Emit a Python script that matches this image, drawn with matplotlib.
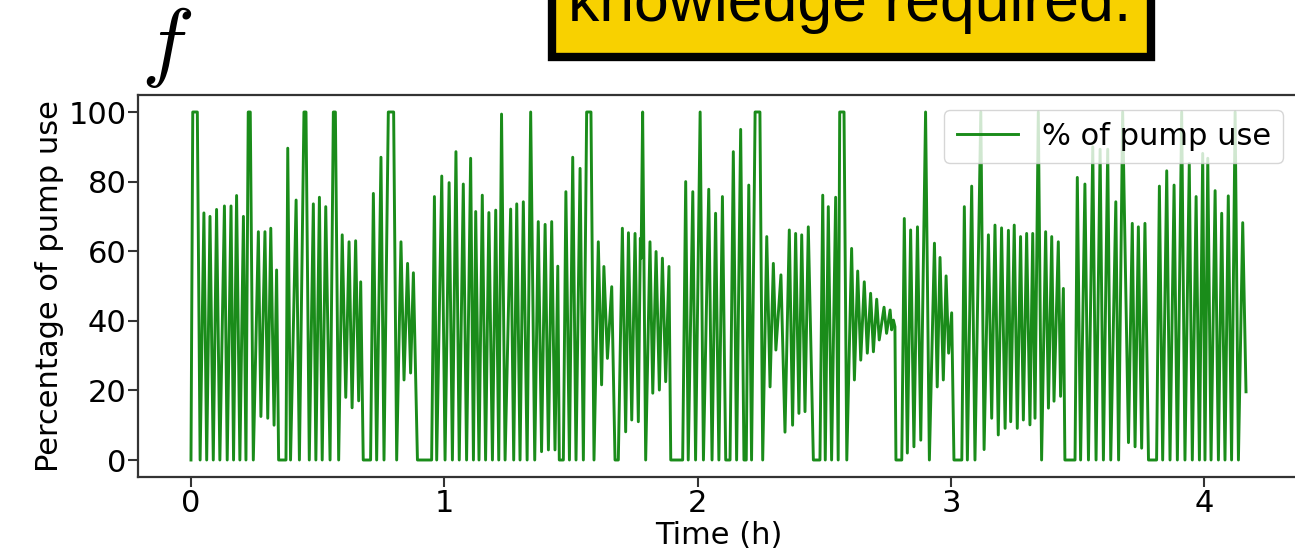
import numpy as np
import matplotlib
matplotlib.use("Agg")
import matplotlib.pyplot as plt
from matplotlib.patches import Rectangle

# Pump duty trace, vertex by vertex (time in hours, % of pump use)
t_a = [0.000, 0.007, 0.025, 0.036, 0.051, 0.062, 0.075, 0.088, 0.101, 0.114,
       0.132, 0.143, 0.158, 0.168, 0.180, 0.193, 0.207, 0.217, 0.226, 0.234,
       0.246, 0.266, 0.276, 0.292, 0.303, 0.315, 0.328, 0.338, 0.346, 0.375,
       0.382, 0.393, 0.415, 0.428, 0.446, 0.454, 0.467, 0.483, 0.493, 0.507,
       0.518, 0.532, 0.549, 0.562, 0.570, 0.583, 0.597, 0.611, 0.624, 0.636,
       0.650, 0.662, 0.670, 0.680, 0.709, 0.720, 0.733, 0.750, 0.762, 0.779,
       0.800]
pct_a = [0, 100, 100, 0, 71, 0, 70, 0, 72, 0,
         73, 0, 73, 0, 76, 0, 70, 0, 100, 100,
         0, 65.6, 12.5, 65.6, 12, 66.6, 10, 54.6, 0, 0,
         89.6, 0, 74.7, 0, 100, 100, 0, 73.6, 0, 75.5,
         0, 72.8, 0, 100, 100, 0, 64.7, 18, 62.7, 15,
         63, 17, 51.2, 0, 0, 76.6, 0, 87, 0, 100,
         100]

t_b = [0.812, 0.829, 0.841, 0.855, 0.867, 0.878, 0.894, 0.950, 0.961, 0.970,
       0.990, 1.003, 1.019, 1.032, 1.046, 1.059, 1.075, 1.088, 1.104, 1.115,
       1.124, 1.137, 1.150, 1.163, 1.176, 1.190, 1.203, 1.215, 1.226, 1.240,
       1.262, 1.274, 1.286, 1.299, 1.312, 1.327, 1.341, 1.357, 1.371, 1.384,
       1.398, 1.411, 1.424, 1.437, 1.448, 1.454, 1.470, 1.480, 1.494, 1.507,
       1.520, 1.536, 1.549, 1.562, 1.579, 1.591, 1.608, 1.621, 1.630]
pct_b = [0, 62.7, 23, 56.5, 25, 53.8, 0, 0, 75.7, 0,
         81.6, 0, 79.7, 0, 88.6, 0, 79.3, 0, 86.7, 0,
         71.4, 0, 76.1, 0, 71.1, 0, 71.8, 0, 99.4, 0,
         72.1, 0, 73.6, 0, 74.2, 0, 100, 0, 68.5, 2.4,
         67.7, 2.9, 68.5, 2.9, 55.7, 0, 0, 77.1, 0, 87,
         0, 83.8, 0, 100, 100, 0, 62.7, 21.6, 55.6]

t_c = [1.644, 1.661, 1.674, 1.687, 1.703, 1.716, 1.727, 1.740, 1.753, 1.766,
       1.774, 1.777, 1.783, 1.795, 1.812, 1.823, 1.836, 1.849, 1.861, 1.874,
       1.887, 1.894, 1.941, 1.953, 1.963, 1.981, 1.992, 2.010, 2.023, 2.044,
       2.057, 2.071, 2.084, 2.098, 2.111, 2.128, 2.141, 2.154, 2.170, 2.183,
       2.192, 2.202, 2.213, 2.227, 2.246, 2.257, 2.273, 2.286, 2.299, 2.309,
       2.329, 2.345, 2.362, 2.375, 2.387, 2.400, 2.411, 2.424, 2.437, 2.457]
pct_c = [29.2, 49.8, 0, 0, 66.6, 8.1, 65.3, 11.5, 65.1, 11,
         63.7, 58, 100, 0, 62.7, 19.2, 59.9, 20.1, 58, 22.5,
         55.6, 0, 0, 80, 0, 77.1, 0, 100, 0, 77.8,
         0, 70.9, 0, 75.7, 0, 0, 88.6, 0, 95, 0,
         0, 79, 0, 100, 100, 0, 64.2, 21, 56.5, 31.6,
         53.2, 8, 66.1, 10, 65.1, 13.4, 64.7, 13.9, 67, 0]

t_d = [2.483, 2.494, 2.504, 2.516, 2.529, 2.545, 2.555, 2.561, 2.578, 2.589,
       2.608, 2.619, 2.632, 2.644, 2.658, 2.670, 2.683, 2.694, 2.707, 2.717,
       2.736, 2.746, 2.760, 2.766, 2.773, 2.779, 2.783, 2.806, 2.816, 2.828,
       2.841, 2.854, 2.868, 2.881, 2.900, 2.915, 2.935, 2.946, 2.957, 2.970,
       2.981, 2.991, 3.003, 3.012, 3.043, 3.053, 3.065, 3.082, 3.095, 3.118,
       3.131]
pct_d = [0, 76.1, 0, 72.8, 0, 75.5, 0, 100, 100, 0,
         60.8, 23, 54.3, 28.7, 51.2, 30.7, 47.9, 31.1, 46.2, 34.5,
         43.9, 36.4, 43.1, 37.4, 40.2, 38.3, 0, 0, 69.4, 2,
         66.1, 3.8, 67, 5.7, 100, 0, 62.3, 21, 58.2, 23,
         52.9, 30.7, 42.3, 0, 0, 72.8, 0, 78.7, 0, 100,
         3]

t_e = [3.148, 3.161, 3.174, 3.187, 3.200, 3.214, 3.227, 3.236, 3.250, 3.262,
       3.275, 3.286, 3.299, 3.312, 3.323, 3.332, 3.345, 3.358, 3.374, 3.385,
       3.398, 3.407, 3.424, 3.433, 3.444, 3.450, 3.490]
pct_e = [64.7, 12, 67.5, 7.2, 66.7, 9.1, 66.0, 11, 67.5, 9.1,
         64.2, 11.5, 65.1, 10.1, 65.1, 12, 100, 0, 65.6, 14.9,
         64.2, 16.9, 62.7, 18.3, 49.3, 0, 0]

t_f = [3.499, 3.512, 3.529, 3.543, 3.560, 3.573, 3.589, 3.602, 3.619, 3.631,
       3.651, 3.662, 3.678, 3.701, 3.716, 3.727, 3.740, 3.753, 3.766, 3.780,
       3.812, 3.823, 3.836, 3.852, 3.865, 3.881, 3.894, 3.911, 3.924, 3.941,
       3.953, 3.968, 3.981, 3.994, 4.003, 4.014, 4.027, 4.043, 4.056, 4.069,
       4.082, 4.095, 4.108, 4.122, 4.135, 4.152, 4.165]
pct_f = [81.2, 0, 79.3, 0, 90, 0, 89.3, 0, 89.3, 0,
         74.2, 0, 100, 5, 68, 3.8, 67, 3.4, 68, 0,
         0, 78.7, 0, 83.1, 0, 79, 0, 100, 0, 85.2,
         0, 75.7, 0, 88.1, 0, 86.7, 0, 77.4, 0, 70.9,
         0, 75.9, 0, 100, 0, 68.2, 19.6]

time_h = np.concatenate([t_a, t_b, t_c, t_d, t_e, t_f])
pump_pct = np.concatenate([pct_a, pct_b, pct_c, pct_d, pct_e, pct_f])

x_ticks = [0, 1, 2, 3, 4]
y_ticks = [0, 20, 40, 60, 80, 100]

W, H = 1295, 549
fig = plt.figure(figsize=(W / 100, H / 100), dpi=100)
fig.patch.set_facecolor("white")

ax = fig.add_axes([138.3 / W, (H - 477.4) / H, 1160.4 / W, 382.8 / H])
ax.plot(time_h, pump_pct, color="#1a8c1a", lw=2.1, label="% of pump use")
ax.set_xlim(-0.208, 4.373)
ax.set_ylim(-5, 105)
ax.set_xticks(x_ticks)
ax.set_yticks(y_ticks)
ax.tick_params(labelsize=22, length=7, width=1.5, pad=1.5, color="#333333")
for s in ax.spines.values():
    s.set_linewidth(1.6)
    s.set_color("#333333")
ax.set_xlabel("Time (h)", fontsize=22, labelpad=2)
ax.set_ylabel("Percentage of pump use", fontsize=22, labelpad=3)
ax.legend(loc="upper right", fontsize=22, borderaxespad=0.5)

# Panel letter
fig.text(167 / W, 1 - 47 / H, r"$f$", fontsize=64, math_fontfamily="cm",
         ha="center", va="center")

# Callout box across the top
box = Rectangle((552 / W, 1 - 57 / H), 599 / W, 80 / H, transform=fig.transFigure,
                facecolor="#F8D100", edgecolor="black", linewidth=6, clip_on=False)
fig.add_artist(box)
fig.text(850 / W, 1 - 21 / H, "knowledge required.", fontsize=45,
         family="Liberation Sans", ha="center", va="baseline", color="black")

fig.savefig("out.png", dpi=100)
